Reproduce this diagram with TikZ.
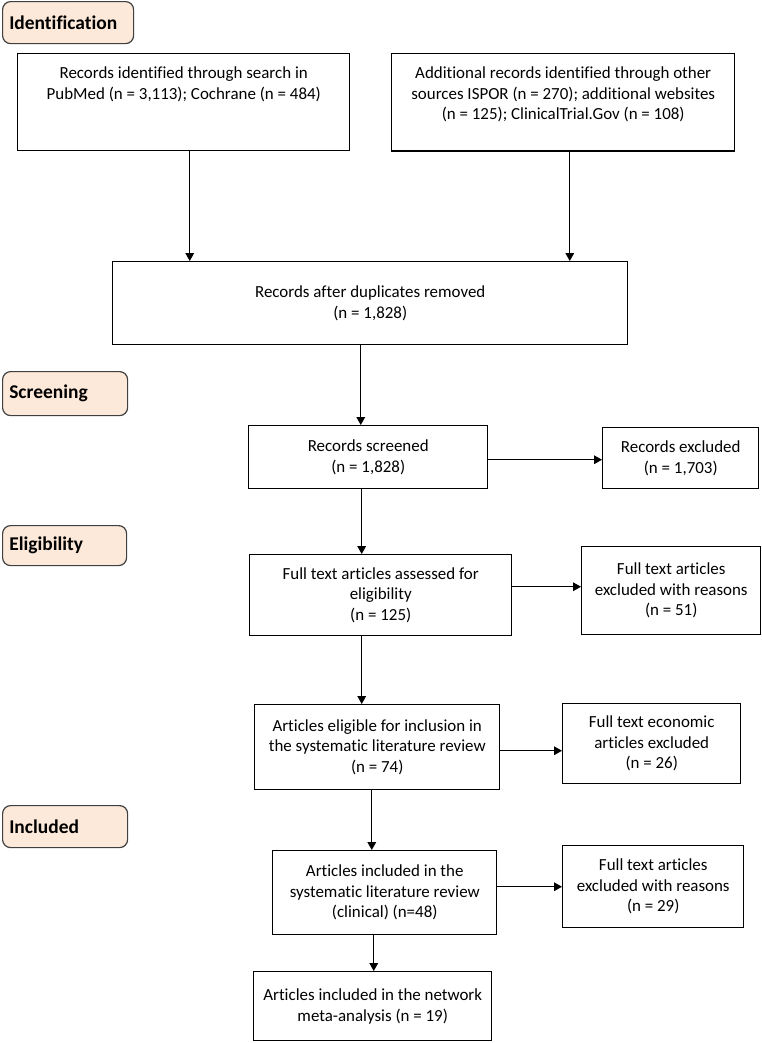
\documentclass[tikz,border=0pt]{standalone}
\usepackage{fontspec}
\setmainfont{Carlito}[Ligatures={NoCommon}]
\usetikzlibrary{arrows.meta,calc}

\tikzset{every picture/.style={line width=0.75pt}}
\tikzset{
  box/.style={draw={rgb, 255:red, 0; green, 0; blue, 0 }, line width=1.1pt, align=center, inner sep=0.75pt, font=\fontsize{12.7}{15.4}\selectfont},
  topbox/.style={box, inner ysep=10pt},
  stage/.style={draw={rgb, 255:red, 64; green, 64; blue, 64 }, fill={rgb, 255:red, 253; green, 233; blue, 217 }, line width=0.9pt, rounded corners=6pt, align=left, inner xsep=5pt, inner ysep=0.75pt, font=\bfseries\fontsize{14.6}{17}\selectfont},
  arr/.style={-{Triangle[length=6pt,width=6.5pt]}, line width=0.9pt}
}

\begin{document}
\begin{tikzpicture}[x=0.75pt,y=0.75pt,yscale=-1,xscale=1]
%set diagram left start at 0, and has height of 1043
\path (0,0) rectangle (762,1043);

% Stage Labels
\draw (2,1) node [stage, anchor=north west, text width=88.25pt, minimum height=31.5pt] (ident) {Identification};
\draw (2,371) node [stage, anchor=north west, text width=83.75pt, minimum height=33pt] (screen) {Screening};
\draw (2,525) node [stage, anchor=north west, text width=83pt, minimum height=30pt] (elig) {Eligibility};
\draw (2,805) node [stage, anchor=north west, text width=83.75pt, minimum height=31.5pt] (incl) {Included};

% Text Node
\draw (17,53) node [topbox, anchor=north west, minimum width=249pt, text depth=28.5pt] (search) {Records identified through search in\\PubMed (n = 3,113); Cochrane (n = 484)};
% Text Node
\draw (391,53) node [topbox, anchor=north west, minimum width=257.25pt, text depth=13.5pt] (other) {Additional records identified through other\\sources ISPOR (n = 270); additional websites\\(n = 125); ClinicalTrial.Gov (n = 108)};
% Text Node
\draw (112,261) node [box, anchor=north west, minimum width=386.25pt, minimum height=62.25pt] (dup) {Records after duplicates removed\\(n = 1,828)};
% Text Node
\draw (248,425) node [box, anchor=north west, minimum width=179.25pt, minimum height=47.25pt] (screened) {Records screened\\(n = 1,828)};
% Text Node
\draw (602,427) node [box, anchor=north west, minimum width=117pt, minimum height=45.75pt] (recexcl) {Records excluded\\(n = 1,703)};
% Text Node
\draw (249,554) node [box, anchor=north west, minimum width=196.5pt, minimum height=60.75pt] (fulltext) {Full text articles assessed for\\eligibility\\(n = 125)};
% Text Node
\draw (581,546) node [box, anchor=north west, minimum width=134.25pt, minimum height=66pt] (ftexcl) {Full text articles\\excluded with reasons\\(n = 51)};
% Text Node
\draw (254,704) node [box, anchor=north west, minimum width=183.75pt, minimum height=63.75pt] (eligible) {Articles eligible for inclusion in\\the systematic literature review\\(n = 74)};
% Text Node
\draw (562,703) node [box, anchor=north west, minimum width=133.5pt, minimum height=60pt] (econexcl) {Full text economic\\articles excluded\\(n = 26)};
% Text Node
\draw (272,850) node [box, anchor=north west, minimum width=168pt, minimum height=63pt] (slrincl) {Articles included in the\\systematic literature review\\(clinical) (n=48)};
% Text Node
\draw (562,845) node [box, anchor=north west, minimum width=135.75pt, minimum height=61.5pt] (clinexcl) {Full text articles\\excluded with reasons\\(n = 29)};
% Text Node
\draw (253,971) node [box, anchor=north west, minimum width=178.5pt, minimum height=51.75pt] (nma) {Articles included in the network\\meta-analysis (n = 19)};

%Straight Lines
\draw [arr] ([xshift=4.5pt]search.south) -- ([xshift=4.5pt]search.south |- dup.north);
\draw [arr] ([xshift=4.9pt]other.south) -- ([xshift=4.9pt]other.south |- dup.north);
\draw [arr] ([xshift=-7.1pt]dup.south) -- ([xshift=-7.1pt]dup.south |- screened.north);
\draw [arr] ([xshift=-4.9pt]screened.south) -- ([xshift=-4.9pt]screened.south |- fulltext.north);
\draw [arr] ([xshift=-14.25pt]fulltext.south) -- ([xshift=-14.25pt]fulltext.south |- eligible.north);
\draw [arr] ([xshift=-4.1pt]eligible.south) -- ([xshift=-4.1pt]eligible.south |- slrincl.north);
\draw [arr] ([xshift=-8.25pt]slrincl.south) -- ([xshift=-8.25pt]slrincl.south |- nma.north);

%Straight Lines
\coordinate (a1) at ($(screened.east)+(0,2.5)$);
\draw [arr] (a1) -- (a1 -| recexcl.west);
\coordinate (a2) at ($(fulltext.east)+(0,-8.5)$);
\draw [arr] (a2) -- (a2 -| ftexcl.west);
\coordinate (a3) at ($(eligible.east)+(0,3.5)$);
\draw [arr] (a3) -- (a3 -| econexcl.west);
\coordinate (a4) at ($(slrincl.east)+(0,-6)$);
\draw [arr] (a4) -- (a4 -| clinexcl.west);

\end{tikzpicture}
\end{document}
